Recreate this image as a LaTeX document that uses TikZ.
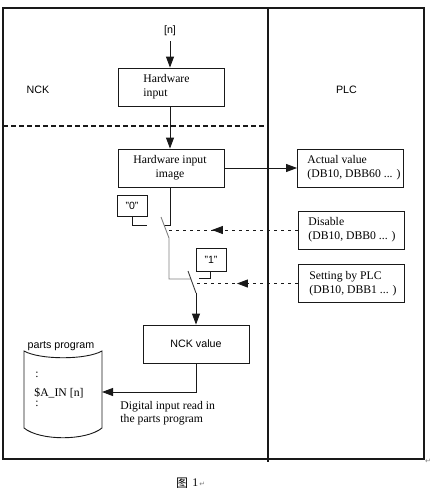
\documentclass[tikz,border=0pt]{standalone}
\usepackage{fontspec}
\setmainfont{Liberation Serif}
\setsansfont{Liberation Sans}
\newfontfamily\cjkfont{Noto Sans CJK SC}
\newfontfamily\symfont{DejaVu Sans}
\usetikzlibrary{arrows.meta,decorations.markings}
\begin{document}
\begin{tikzpicture}[x=1pt,y=-1pt,
  line width=0.9pt, draw=black!90,
  serif/.style={font=\fontsize{11.7}{13.8}\selectfont, inner sep=0pt},
  sans/.style={font=\sffamily\fontsize{10.7}{12.6}\selectfont, inner sep=0pt},
  box/.style={draw=black!90, line width=0.9pt, minimum width=106pt, minimum height=38pt, inner sep=0pt},
  smallbox/.style={draw=black!90, line width=0.9pt, minimum width=30pt, minimum height=21pt, inner sep=0pt, font=\sffamily\fontsize{10.5}{12}\selectfont},
  tip/.style={-{Triangle[length=11pt,width=8pt]}},
  frame/.style={draw=black!90, line width=1.1pt},
  sepline/.style={line width=1.7pt, dash pattern=on 5pt off 3pt},
  sigline/.style={dash pattern=on 3pt off 4pt, postaction={solid, decorate}},
  wire/.style={draw=black!90},
  graywire/.style={draw=black!50},
]
\useasboundingbox (0,0) rectangle (431,493);

% frame
\draw[frame] (3,8) rectangle (424,459);
\coordinate (divtop) at (268,8);
\coordinate (divbot) at (268,462);
\draw[frame] (divtop) -- (divbot);
\coordinate (sepL) at (3,126);
\coordinate (sepR) at (268,126);
\draw[sepline] (sepL) -- (sepR);

% region labels
\node[sans] (nck) at (38,90) {NCK};
\node[sans] (plc) at (346.5,90) {PLC};

% input
\node[sans] (n) at (170,31) {[n]};
\node[box] (hwin) at (171,87) {};
\node[serif, anchor=west, align=left] (hwintxt) at (143,87) {Hardware\\input};
\coordinate (nstart) at (170,41);
\draw[tip] (nstart) -- (hwin.north -| nstart);

\node[box] (hwimg) at (171,168) {};
\node[serif, align=center] (hwimgtxt) at (170,168) {Hardware input\\image};
\draw[tip] (hwin.south -| nstart) -- (hwimg.north -| nstart);

% PLC boxes
\node[box] (act) at (350.5,168) {};
\node[serif, anchor=west, align=left] (acttxt) at (307,168) {Actual value\\(DB10, DBB60 ... )};
\node[box] (dis) at (351,230) {};
\node[serif, anchor=west, align=left] (distxt) at (308,230) {Disable\\(DB10, DBB0 ... )};
\node[box] (set) at (351,283.5) {};
\node[serif, anchor=west, align=left] (settxt) at (309,283.5) {Setting by PLC\\(DB10, DBB1 ... )};

\draw[tip] (hwimg.east) -- (act.west);

% switch
\node[smallbox] (zero) at (132,205.5) {"0"};
\node[smallbox, minimum height=23pt] (one) at (211,259.5) {"1"};
\coordinate (c1) at (170,225);
\coordinate (c1e) at (164,225);
\draw[wire] (hwimg.south -| c1) -- (c1) -- (c1e);
\coordinate (z1) at (132,225);
\coordinate (z2) at (147,225);
\draw[wire] (zero.south) -- (z1) -- (z2);
\coordinate (b1top) at (161,217);
\coordinate (b1bot) at (169,238);
\coordinate (g1) at (169,279);
\coordinate (g2) at (191,279);
\draw[graywire] (b1top) -- (b1bot) -- (g1) -- (g2);
\coordinate (o1) at (210,278);
\coordinate (o2) at (199,278);
\draw[wire] (one.south -| o1) -- (o1) -- (o2);
\coordinate (b2top) at (188,271);
\coordinate (b2bot) at (196,293);
\draw[draw=black!75] (b2top) -- (b2bot);

\node[box] (nckv) at (196,344) {};
\node[sans] (nckvtxt) at (196,344) {NCK value};
\draw[tip] (b2bot) -- (nckv.north);

% dashed signal lines
\coordinate (disend) at (167,230);
\draw[sigline, decoration={markings, mark=at position 0.656 with {\arrow{Triangle[length=11pt,width=8pt]}}}] (dis.west) -- (disend);
\coordinate (setend) at (193,283.5);
\draw[sigline, decoration={markings, mark=at position 0.58 with {\arrow{Triangle[length=11pt,width=8pt]}}}] (set.west) -- (setend);

% cylinder
\draw[draw=black!90] (24,351) .. controls (40,360) and (86,360) .. (102,351)
  -- (102,428) .. controls (86,441) and (40,441) .. (24,428) -- cycle;
\node[sans] (pp) at (61,346) {parts program};
\node[serif] (dot1) at (37,375) {:};
\node[serif, anchor=base west] (ain) at (34,396) {\$A\_IN [n]};
\node[serif] (dot2) at (37,404) {:};
\coordinate (cylR) at (102,392);
\coordinate (turn) at (196,392);
\draw[tip] (nckv.south) -- (turn) -- (cylR);
\node[serif, anchor=base west] (dig1) at (120,409) {Digital input read in};
\node[serif, anchor=base west] (dig2) at (120,422) {the parts program};

% caption
\node[inner sep=0pt, font=\cjkfont\fontsize{12}{14}\selectfont] (fig) at (182,483) {图};
\node[serif, anchor=west] (fignum) at (192,483) {1};
\node[inner sep=0pt, anchor=west, text=black!50, font=\symfont\fontsize{7}{8}\selectfont] (ret) at (199,484) {↵};
\node[inner sep=0pt, text=black!50, font=\symfont\fontsize{7}{8}\selectfont] (ret2) at (428,461) {↵};
\end{tikzpicture}
\end{document}
